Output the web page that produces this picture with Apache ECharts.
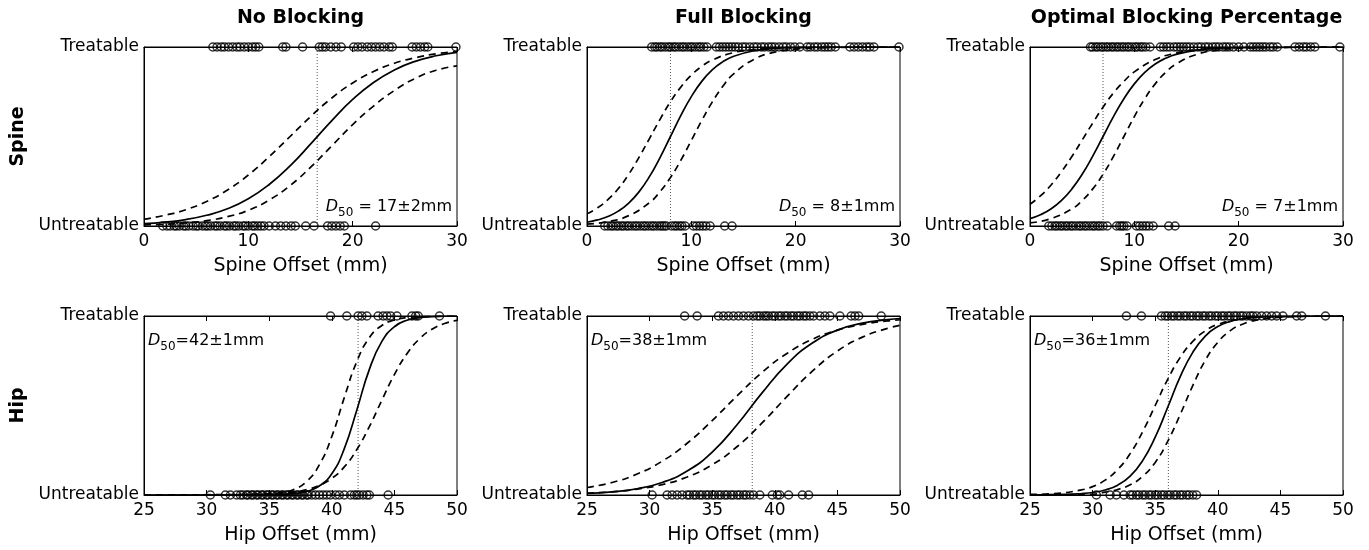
<!DOCTYPE html>
<html>
<head>
<meta charset="utf-8">
<script src="https://cdn.jsdelivr.net/npm/echarts/dist/echarts.min.js"></script>
<style>
html, body { margin: 0; padding: 0; background: #fff; }
#chart { width: 1369px; height: 550px; }
</style>
</head>
<body>
<div id="chart"></div>
<script>
// ---- Column / row labels ----
const columnTitles = ['No Blocking', 'Full Blocking', 'Optimal Blocking Percentage'];
const rowTitles = ['Spine', 'Hip'];
const outcomeLabels = ['Untreatable', 'Treatable'];
const axisNames = ['Spine Offset (mm)', 'Hip Offset (mm)'];

// ---- D50 estimates (mm) and their uncertainty ----
const d50 = [16.6, 8.0, 7.0, 42.1, 38.2, 36.05];
const d50Err = [2, 1, 1, 1, 1, 1];

// ---- Observed offsets, treatable (y = 1) and untreatable (y = 0) ----
const spineNoTreat = [6.6, 7.0, 7.4, 7.7, 8.1, 8.5, 8.9, 9.2, 9.6, 10.0, 10.4, 10.7, 11.0, 13.3, 13.6, 15.2, 16.8, 17.1, 17.4, 17.9, 18.4, 18.9, 20.1, 20.5, 20.9, 21.4, 21.8, 22.2, 22.6, 23.0, 23.5, 23.8, 25.7, 26.1, 26.5, 26.9, 27.2, 29.9];
const spineNoUntreat = [1.8, 2.2, 2.5, 2.9, 3.1, 3.4, 3.8, 4.0, 4.3, 4.7, 5.0, 5.2, 5.6, 5.9, 6.1, 6.4, 6.8, 7.0, 7.3, 7.7, 7.9, 8.2, 8.6, 8.8, 9.1, 9.5, 9.7, 10.0, 10.4, 10.6, 10.9, 11.2, 11.5, 12.0, 12.6, 13.1, 13.6, 14.1, 14.5, 15.5, 16.3, 17.6, 18.0, 18.4, 18.8, 19.2, 22.2];
const spineFullTreat = [6.2, 6.5, 6.7, 7.0, 7.2, 7.5, 7.8, 8.0, 8.3, 8.5, 8.8, 9.1, 9.3, 9.6, 9.9, 10.1, 10.4, 10.7, 10.9, 11.2, 11.5, 12.4, 12.7, 13.0, 13.3, 13.6, 13.9, 14.2, 14.5, 14.9, 15.2, 15.6, 16.0, 16.3, 16.7, 17.0, 17.4, 17.7, 18.0, 18.4, 18.8, 19.1, 19.5, 19.9, 20.4, 21.1, 21.4, 21.8, 22.1, 22.5, 22.8, 23.1, 23.4, 23.8, 25.2, 25.6, 26.0, 26.4, 26.8, 27.1, 27.5, 29.9];
const spineFullUntreat = [1.7, 2.0, 2.3, 2.5, 2.8, 3.0, 3.3, 3.5, 3.8, 4.0, 4.3, 4.6, 4.8, 5.1, 5.4, 5.6, 5.9, 6.2, 6.4, 6.7, 7.0, 7.2, 7.4, 7.6, 8.1, 8.4, 8.6, 8.9, 9.1, 9.4, 10.2, 10.5, 10.8, 11.1, 11.4, 11.8, 13.2, 13.9];
const spineOptTreat = [5.8, 6.0, 6.3, 6.5, 6.8, 7.0, 7.3, 7.5, 7.8, 8.0, 8.3, 8.5, 8.8, 9.0, 9.3, 9.5, 9.8, 10.1, 10.3, 10.6, 10.8, 11.1, 11.5, 12.5, 12.8, 13.1, 13.4, 13.8, 14.1, 14.4, 14.7, 15.0, 15.3, 15.7, 16.1, 16.4, 16.8, 17.1, 17.5, 17.8, 18.1, 18.5, 18.8, 19.1, 19.5, 20.0, 20.5, 21.1, 21.4, 21.7, 22.0, 22.3, 22.6, 23.0, 23.3, 23.7, 25.4, 25.8, 26.2, 26.5, 26.9, 27.3, 29.7];
const spineOptUntreat = [1.8, 2.1, 2.4, 2.6, 2.9, 3.1, 3.4, 3.6, 3.9, 4.1, 4.4, 4.7, 4.9, 5.2, 5.4, 5.7, 6.0, 6.2, 6.5, 6.7, 7.0, 7.4, 8.3, 8.6, 8.8, 9.0, 9.3, 10.2, 10.5, 10.8, 11.1, 11.4, 11.8, 13.3, 13.9];
const hipNoTreat = [39.9, 41.2, 42.1, 42.4, 42.8, 43.7, 44.1, 44.4, 44.7, 45.2, 46.4, 46.7, 46.9, 48.6];
const hipNoUntreat = [30.3, 31.5, 31.9, 32.4, 32.7, 32.9, 33.2, 33.3, 33.6, 33.7, 34.0, 34.1, 34.4, 34.5, 34.8, 34.9, 35.2, 35.3, 35.6, 35.7, 36.0, 36.1, 36.4, 36.5, 36.8, 36.9, 37.2, 37.3, 37.6, 37.7, 38.0, 38.1, 38.4, 38.7, 39.0, 39.3, 39.6, 39.9, 40.3, 40.6, 41.0, 41.5, 41.8, 42.0, 42.2, 42.5, 42.8, 43.0, 44.5];
const hipFullTreat = [32.8, 33.8, 35.5, 35.9, 36.3, 36.7, 37.1, 37.5, 37.9, 38.3, 38.6, 38.8, 39.1, 39.3, 39.5, 39.8, 40.0, 40.3, 40.5, 40.8, 41.0, 41.3, 41.5, 41.8, 42.0, 42.3, 42.5, 42.8, 43.1, 43.6, 44.0, 44.4, 45.2, 46.1, 46.4, 46.7, 48.5];
const hipFullUntreat = [30.2, 31.4, 31.8, 32.2, 32.6, 33.0, 33.2, 33.5, 33.7, 34.0, 34.2, 34.5, 34.7, 35.0, 35.2, 35.5, 35.7, 36.0, 36.2, 36.5, 36.7, 37.0, 37.2, 37.5, 37.7, 38.0, 38.3, 38.8, 39.8, 40.2, 40.4, 41.1, 42.2, 42.7];
const hipOptTreat = [32.7, 33.9, 35.5, 35.8, 36.0, 36.3, 36.5, 36.8, 37.0, 37.3, 37.5, 37.8, 38.0, 38.3, 38.5, 38.8, 39.0, 39.3, 39.5, 39.8, 40.0, 40.3, 40.5, 40.8, 41.0, 41.3, 41.5, 41.8, 42.0, 42.3, 42.6, 42.8, 43.1, 43.5, 43.9, 44.3, 44.7, 45.2, 46.3, 46.7, 48.6];
const hipOptUntreat = [30.3, 31.4, 31.9, 32.5, 33.0, 33.2, 33.5, 33.7, 34.0, 34.2, 34.5, 34.7, 35.0, 35.2, 35.5, 35.7, 36.0, 36.2, 36.5, 36.7, 37.0, 37.2, 37.5, 37.7, 38.0, 38.3];

// ---- Fitted probability curves [offset, P(treatable)]: fit, lower and upper bound ----
const spineNoFit = [[0,0.013],[2,0.022],[4,0.036],[6,0.060],[8,0.096],[10,0.152],[12,0.232],[14,0.336],[16,0.460],[18,0.589],[20,0.707],[22,0.802],[24,0.872],[26,0.920],[28,0.951],[30,0.970]];
const spineNoLo = [[0,0.038],[2,0.060],[4,0.091],[6,0.137],[8,0.201],[10,0.285],[12,0.387],[14,0.500],[16,0.613],[18,0.715],[20,0.799],[22,0.863],[24,0.909],[26,0.940],[28,0.962],[30,0.975]];
const spineNoHi = [[0,0.006],[2,0.010],[4,0.017],[6,0.030],[8,0.052],[10,0.088],[12,0.145],[14,0.226],[16,0.330],[18,0.448],[20,0.566],[22,0.670],[24,0.757],[26,0.825],[28,0.870],[30,0.895]];
const spineFullFit = [[0,0.021],[1,0.034],[2,0.053],[3,0.083],[4,0.128],[5,0.192],[6,0.277],[7,0.382],[8,0.500],[9,0.618],[10,0.723],[11,0.808],[12,0.872],[13,0.917],[14,0.947],[16,0.979],[18,0.992],[20,0.997],[24,1.0],[30,1.0]];
const spineFullLo = [[0,0.068],[1,0.101],[2,0.147],[3,0.209],[4,0.289],[5,0.385],[6,0.490],[7,0.596],[8,0.694],[9,0.777],[10,0.843],[11,0.892],[12,0.927],[14,0.968],[16,0.986],[18,0.994],[20,0.997],[30,1.0]];
const spineFullHi = [[0,0.010],[2,0.024],[4,0.058],[6,0.131],[7,0.192],[8,0.271],[9,0.368],[10,0.478],[11,0.589],[12,0.692],[13,0.779],[14,0.847],[16,0.931],[18,0.971],[20,0.988],[22,0.995],[24,0.998],[30,1.0]];
const spineOptFit = [[0,0.041],[1,0.063],[2,0.095],[3,0.142],[4,0.206],[5,0.289],[6,0.389],[7,0.500],[8,0.611],[9,0.711],[10,0.794],[11,0.858],[12,0.905],[13,0.937],[14,0.959],[16,0.983],[18,0.993],[20,0.997],[30,1.0]];
const spineOptLo = [[0,0.121],[1,0.168],[2,0.228],[3,0.302],[4,0.387],[5,0.480],[6,0.574],[7,0.664],[8,0.743],[9,0.808],[10,0.861],[12,0.930],[14,0.966],[16,0.984],[18,0.992],[20,0.996],[30,1.0]];
const spineOptHi = [[0,0.017],[2,0.041],[4,0.095],[5,0.142],[6,0.206],[7,0.289],[8,0.389],[9,0.500],[10,0.611],[11,0.711],[12,0.794],[13,0.858],[14,0.905],[16,0.959],[18,0.983],[20,0.993],[22,0.997],[30,1.0]];
const hipNoFit = [[25,0.0],[34,0.001],[36,0.003],[37,0.008],[38,0.020],[39,0.050],[40,0.119],[41,0.259],[42,0.475],[43,0.702],[44,0.858],[45,0.940],[46,0.976],[47,0.991],[48,0.996],[50,1.0]];
const hipNoLo = [[25,0.0],[33,0.001],[34,0.002],[35,0.005],[36,0.013],[37,0.032],[38,0.076],[39,0.168],[40,0.327],[41,0.545],[42,0.746],[43,0.879],[44,0.947],[45,0.978],[46,0.991],[48,0.998],[50,1.0]];
const hipNoHi = [[25,0.0],[35,0.005],[37,0.017],[38,0.030],[39,0.053],[40,0.093],[41,0.157],[42,0.254],[43,0.382],[44,0.530],[45,0.673],[46,0.789],[47,0.872],[48,0.926],[49,0.958],[50,0.976]];
const hipFullFit = [[25,0.009],[27,0.017],[29,0.035],[31,0.070],[33,0.134],[35,0.240],[37,0.394],[39,0.572],[41,0.733],[43,0.849],[45,0.921],[47,0.960],[49,0.980],[50,0.986]];
const hipFullLo = [[25,0.042],[27,0.070],[29,0.117],[31,0.189],[33,0.289],[35,0.416],[37,0.555],[39,0.686],[41,0.792],[43,0.870],[45,0.921],[47,0.953],[49,0.973],[50,0.979]];
const hipFullHi = [[25,0.010],[27,0.018],[29,0.033],[31,0.058],[33,0.101],[35,0.169],[37,0.271],[39,0.404],[41,0.552],[43,0.692],[45,0.804],[47,0.882],[49,0.931],[50,0.948]];
const hipOptFit = [[25,0.0],[28,0.003],[29,0.007],[30,0.014],[31,0.028],[32,0.055],[33,0.105],[34,0.192],[35,0.323],[36,0.490],[37,0.661],[38,0.797],[39,0.888],[40,0.941],[41,0.970],[42,0.985],[44,0.996],[50,1.0]];
const hipOptLo = [[25,0.003],[27,0.008],[29,0.027],[30,0.047],[31,0.083],[32,0.142],[33,0.231],[34,0.354],[35,0.500],[36,0.646],[37,0.769],[38,0.858],[39,0.917],[40,0.953],[42,0.985],[44,0.995],[50,1.0]];
const hipOptHi = [[25,0.0],[30,0.004],[31,0.016],[32,0.031],[33,0.057],[34,0.104],[35,0.182],[36,0.300],[37,0.450],[38,0.611],[39,0.752],[40,0.853],[41,0.918],[42,0.955],[43,0.976],[45,0.993],[47,0.998],[50,1.0]];

// ---- Axis ranges and tick spacing per row ----
const xRanges = [[0, 30, 10], [25, 50, 5]];

const panels = [
  { row: 0, col: 0, treat: spineNoTreat, untreat: spineNoUntreat, fit: spineNoFit, lo: spineNoLo, hi: spineNoHi },
  { row: 0, col: 1, treat: spineFullTreat, untreat: spineFullUntreat, fit: spineFullFit, lo: spineFullLo, hi: spineFullHi },
  { row: 0, col: 2, treat: spineOptTreat, untreat: spineOptUntreat, fit: spineOptFit, lo: spineOptLo, hi: spineOptHi },
  { row: 1, col: 0, treat: hipNoTreat, untreat: hipNoUntreat, fit: hipNoFit, lo: hipNoLo, hi: hipNoHi },
  { row: 1, col: 1, treat: hipFullTreat, untreat: hipFullUntreat, fit: hipFullFit, lo: hipFullLo, hi: hipFullHi },
  { row: 1, col: 2, treat: hipOptTreat, untreat: hipOptUntreat, fit: hipOptFit, lo: hipOptLo, hi: hipOptHi }
];

// ---- Layout ----
const FONT = 'DejaVu Sans';
const colLeft = [144, 587, 1030];
const plotW = 313;
const rowTop = [47, 316];
const plotH = 179;

const grids = [], xAxes = [], yAxes = [], series = [], graphics = [];

panels.forEach((p, i) => {
  const [xmin, xmax, step] = xRanges[p.row];
  grids.push({
    left: colLeft[p.col], top: rowTop[p.row], width: plotW, height: plotH,
    show: true, borderColor: '#000', borderWidth: 1, backgroundColor: '#fff'
  });
  // bottom axis with labels
  xAxes.push({
    gridIndex: i, type: 'value', min: xmin, max: xmax, interval: step, position: 'bottom',
    name: axisNames[p.row], nameLocation: 'middle', nameGap: 31,
    nameTextStyle: { fontFamily: FONT, fontSize: 19, color: '#000' },
    axisLine: { lineStyle: { color: '#000', width: 1 } },
    axisTick: { inside: true, length: 5, lineStyle: { color: '#000' } },
    axisLabel: { fontFamily: FONT, fontSize: 17, color: '#000', margin: 7 },
    splitLine: { show: false }
  });
  // mirrored ticks along the top edge
  xAxes.push({
    gridIndex: i, type: 'value', min: xmin, max: xmax, interval: step, position: 'top',
    axisLine: { lineStyle: { color: '#000', width: 1 } },
    axisTick: { inside: true, length: 5, lineStyle: { color: '#000' } },
    axisLabel: { show: false }, splitLine: { show: false }
  });
  yAxes.push({
    gridIndex: i, type: 'value', min: 0, max: 1, interval: 1,
    axisLine: { lineStyle: { color: '#000', width: 1 } },
    axisTick: { show: false },
    axisLabel: {
      fontFamily: FONT, fontSize: 17, color: '#000', margin: 5,
      formatter: v => outcomeLabels[v]
    },
    splitLine: { show: false }
  });
  const xi = i * 2, yi = i;
  const curveStyle = (type) => ({
    type: 'line', xAxisIndex: xi, yAxisIndex: yi, showSymbol: false, symbol: 'none',
    smooth: 0.5, silent: true, z: 3,
    lineStyle: { color: '#000', width: 1.7, type: type }
  });
  series.push(Object.assign(curveStyle('solid'), { data: p.fit }));
  series.push(Object.assign(curveStyle([7, 5]), { data: p.lo }));
  series.push(Object.assign(curveStyle([7, 5]), { data: p.hi }));
  // D50 marker
  series.push({
    type: 'line', xAxisIndex: xi, yAxisIndex: yi, symbol: 'none', silent: true, z: 2,
    lineStyle: { color: '#555', width: 1, type: [1, 2] },
    data: [[d50[i], 0], [d50[i], 1]]
  });
  const pts = (arr, y) => arr.map(v => [v, y]);
  const scatter = (data) => ({
    type: 'scatter', xAxisIndex: xi, yAxisIndex: yi, symbol: 'circle', symbolSize: 8,
    clip: false, silent: true, z: 4,
    itemStyle: { color: 'rgba(0,0,0,0)', borderColor: '#000', borderWidth: 1.5 },
    data: data
  });
  series.push(scatter(pts(p.treat, 1)));
  series.push(scatter(pts(p.untreat, 0)));

  // D50 annotation
  const label = '{d|D}{s|50}{t|' + (p.row === 0 ? ' = ' : '=') + Math.round(d50[i]) + '\u00b1' + d50Err[i] + 'mm}';
  const rich = {
    d: { fontFamily: FONT, fontSize: 16, fontStyle: 'italic', fill: '#000', verticalAlign: 'middle' },
    s: { fontFamily: FONT, fontSize: 12, fill: '#000', padding: [11, 0, 0, 0] },
    t: { fontFamily: FONT, fontSize: 16, fill: '#000' }
  };
  if (p.row === 0) {
    graphics.push({ type: 'text', z: 10, style: { text: label, rich: rich, x: colLeft[p.col] + plotW - 5, y: rowTop[0] + 160, align: 'right', verticalAlign: 'middle' } });
  } else {
    graphics.push({ type: 'text', z: 10, style: { text: label, rich: rich, x: colLeft[p.col] + 4, y: rowTop[1] + 25, align: 'left', verticalAlign: 'middle' } });
  }
});

columnTitles.forEach((t, c) => {
  graphics.push({ type: 'text', z: 10, style: {
    text: t, x: colLeft[c] + plotW / 2, y: 18, align: 'center', verticalAlign: 'middle',
    fontFamily: FONT, fontSize: 19, fontWeight: 'bold', fill: '#000' } });
});
rowTitles.forEach((t, r) => {
  graphics.push({ type: 'text', z: 10, x: 18, y: rowTop[r] + plotH / 2, rotation: Math.PI / 2, style: {
    text: t, x: 0, y: 0, align: 'center', verticalAlign: 'middle',
    fontFamily: FONT, fontSize: 19, fontWeight: 'bold', fill: '#000' } });
});

const chart = echarts.init(document.getElementById('chart'), null, { renderer: 'canvas' });
chart.setOption({
  animation: false,
  backgroundColor: '#fff',
  grid: grids, xAxis: xAxes, yAxis: yAxes, series: series, graphic: graphics
});
</script>
</body>
</html>
